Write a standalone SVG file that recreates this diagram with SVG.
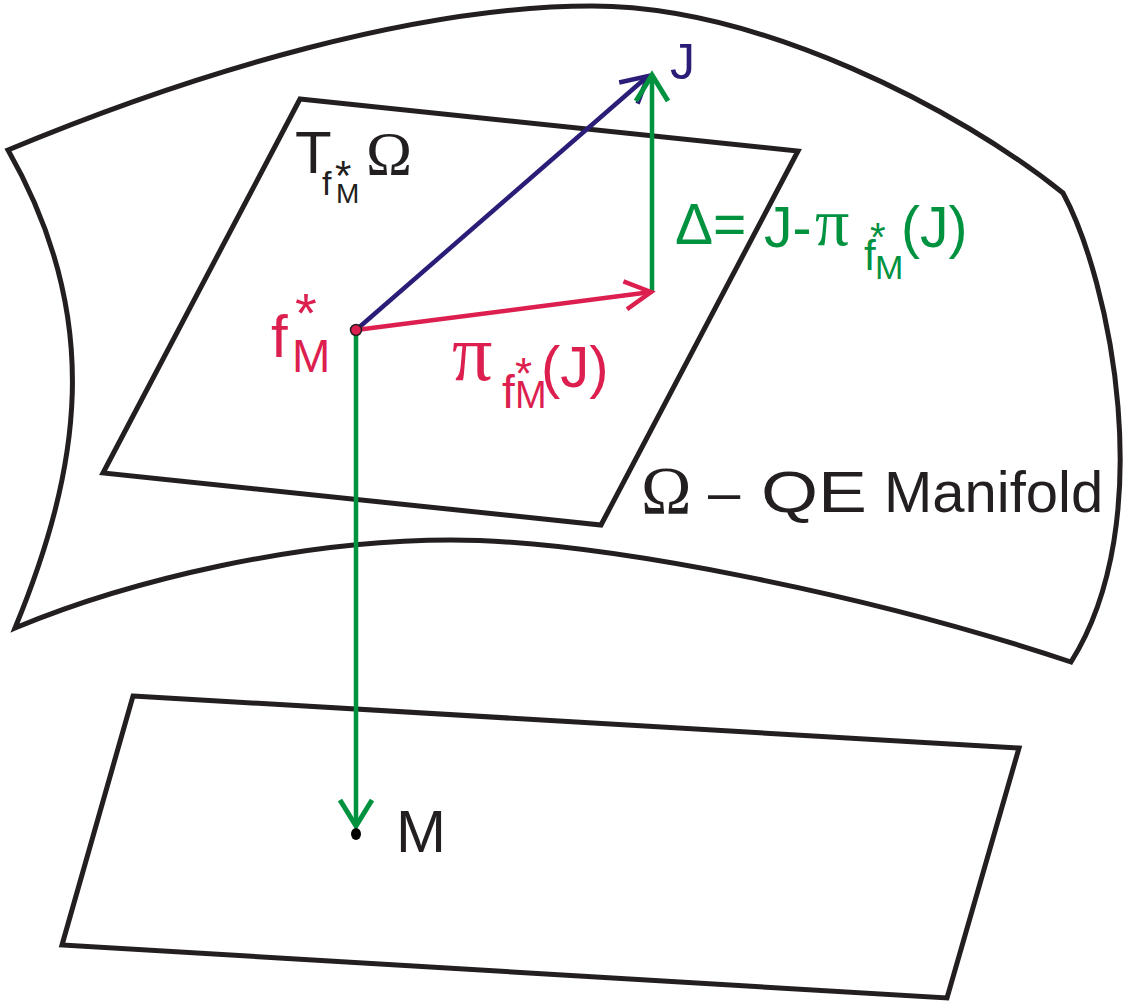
<svg xmlns="http://www.w3.org/2000/svg" width="1126" height="1005" viewBox="0 0 1126 1005">
<style>
.outline{fill:none;stroke:#231f20;stroke-width:5;stroke-linejoin:miter}
.vec{fill:none;stroke-width:4.5}
.s{font-family:"Liberation Sans",Arial,sans-serif}
.r{font-family:"Liberation Serif","Times New Roman",serif}
.k{fill:#231f20}
.red{fill:#dc1f4f}
.grn{fill:#00923f}
.blu{fill:#2a1d78}
</style>
<defs>
<marker id="hG" markerUnits="userSpaceOnUse" viewBox="-32 -20 40 40" markerWidth="40" markerHeight="40" refX="0" refY="0" orient="auto">
<path d="M-26,-16 L0,0 L-26,16" fill="none" stroke="#00923f" stroke-width="5"/>
</marker>
<marker id="hR" markerUnits="userSpaceOnUse" viewBox="-32 -20 40 40" markerWidth="40" markerHeight="40" refX="0" refY="0" orient="auto">
<path d="M-26,-14 L0,0 L-26,14" fill="none" stroke="#dc1f4f" stroke-width="4.5"/>
</marker>
<marker id="hB" markerUnits="userSpaceOnUse" viewBox="-32 -20 40 40" markerWidth="40" markerHeight="40" refX="0" refY="0" orient="auto">
<path d="M-26,-14 L0,0 L-26,14" fill="none" stroke="#2a1d78" stroke-width="4.5"/>
</marker>
</defs>
<rect width="1126" height="1005" fill="#ffffff"/>

<g id="manifold">
<path class="outline" d="M8,150 C200,70 420,6 592,6 C760,6 960,110 1063,193 C1110,280 1160,520 1071,662 C871,595 600,540 451,540 C300,540 130,580 15,628 C80,470 105,320 8,150 Z"/>
</g>

<g id="tangent-plane">
<polygon class="outline" points="300,99 798,151 601,525 103,473"/>
</g>

<g id="base-plane">
<polygon class="outline" points="133,696 1019,748 947,998 62,945"/>
</g>

<g id="connectors">
<line class="vec" x1="356" y1="330" x2="356" y2="826" stroke="#00923f" marker-end="url(#hG)"/>
<line class="vec" x1="356" y1="330" x2="648" y2="76" stroke="#2a1d78" marker-end="url(#hB)"/>
<line class="vec" x1="652" y1="292" x2="652" y2="75" stroke="#00923f" marker-end="url(#hG)"/>
<line class="vec" x1="356" y1="330" x2="651" y2="292" stroke="#dc1f4f" marker-end="url(#hR)"/>
</g>

<g id="point-f">
<circle cx="356" cy="330" r="5.5" fill="#dc1f4f" stroke="#231f20" stroke-width="1.5"/>
<text class="s red" x="271" y="357" font-size="60">f</text>
<text class="s red" x="295" y="332" font-size="56">*</text>
<text class="s red" x="292" y="372" font-size="46">M</text>
</g>

<g id="point-M">
<ellipse cx="356" cy="834" rx="5" ry="6" fill="#000"/>
<text class="s k" x="396" y="852" font-size="60">M</text>
</g>

<g id="point-J">
<text class="s blu" x="670" y="79" font-size="50">J</text>
</g>

<g id="label-T">
<text class="s k" x="295" y="173" font-size="60">T</text>
<text class="s k" x="322" y="195" font-size="34">f</text>
<text class="s k" x="335" y="190" font-size="42">*</text>
<text class="s k" x="336" y="203" font-size="28">M</text>
<text class="r k" x="366" y="174" font-size="62">Ω</text>
</g>

<g id="label-proj">
<text class="r red" x="452" y="380" font-size="80">π</text>
<text class="s red" x="502" y="408" font-size="46">f</text>
<text class="s red" x="515" y="389" font-size="44">*</text>
<text class="s red" x="515" y="408" font-size="38">M</text>
<text class="s red" x="541" y="387" font-size="58">(J)</text>
</g>

<g id="label-delta">
<text class="s grn" x="675" y="244" font-size="57">Δ=</text>
<text class="s grn" x="764" y="247" font-size="57">J-</text>
<text class="r grn" x="815" y="245" font-size="68">π</text>
<text class="s grn" x="864" y="270" font-size="42">f</text>
<text class="s grn" x="870" y="251" font-size="40">*</text>
<text class="s grn" x="875" y="279" font-size="34">M</text>
<text class="s grn" x="901" y="247" font-size="57">(J)</text>
</g>

<g id="label-manifold">
<text class="r k" x="641" y="513" font-size="68">Ω</text>
<text class="s k" y="512" font-size="58"><tspan x="708">–</tspan><tspan x="761" textLength="106" lengthAdjust="spacingAndGlyphs">QE</tspan><tspan x="884">Manifold</tspan></text>
</g>
</svg>
